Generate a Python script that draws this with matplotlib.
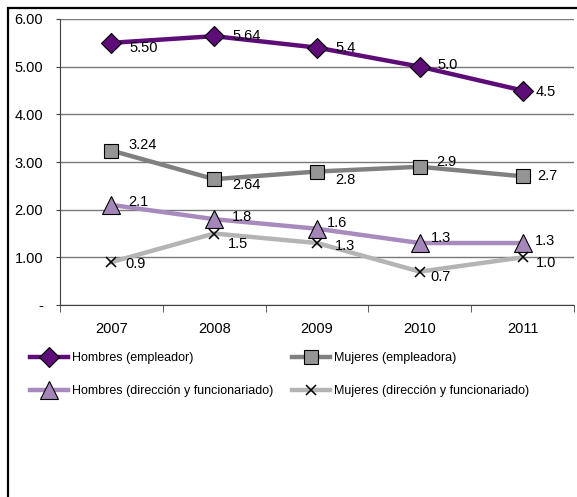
import matplotlib
matplotlib.use("Agg")
import matplotlib.pyplot as plt
from matplotlib.patches import Rectangle

plt.rcParams['font.family'] = ['Liberation Sans', 'DejaVu Sans']

years = ["2007", "2008", "2009", "2010", "2011"]
hombres_empleador = [5.50, 5.64, 5.4, 5.0, 4.5]
mujeres_empleadora = [3.24, 2.64, 2.8, 2.9, 2.7]
hombres_direccion = [2.1, 1.8, 1.6, 1.3, 1.3]
mujeres_direccion = [0.9, 1.5, 1.3, 0.7, 1.0]

labels_he = ["5.50", "5.64", "5.4", "5.0", "4.5"]
labels_me = ["3.24", "2.64", "2.8", "2.9", "2.7"]
labels_hd = ["2.1", "1.8", "1.6", "1.3", "1.3"]
labels_md = ["0.9", "1.5", "1.3", "0.7", "1.0"]

series_names = ["Hombres (empleador)", "Mujeres (empleadora)",
                "Hombres (dirección y funcionariado)", "Mujeres (dirección y funcionariado)"]
y_ticks = [0, 1, 2, 3, 4, 5, 6]
y_ticklabels = ["-", "1.00", "2.00", "3.00", "4.00", "5.00", "6.00"]

W, H = 577, 497
fig = plt.figure(figsize=(W / 100, H / 100), dpi=100)

# outer frame (open at the right and bottom edges)
fig.patches.append(Rectangle((8 / W, -0.05), 1.1, (H - 8) / H + 0.05, transform=fig.transFigure,
                             fill=False, edgecolor="black", linewidth=1.6))

ax = fig.add_axes([60 / W, (H - 305) / H, 514 / W, 286 / H])
x = list(range(len(years)))

styles = [
    dict(data=hombres_empleador, labels=labels_he, color="#5E0D78", marker="D", ms=10,
         mfc="#5E0D78", mec="black", mew=0.8,
         offs=[(18, -5), (18, 0), (18, 0), (18, 2), (13, -1)]),
    dict(data=mujeres_empleadora, labels=labels_me, color="#808080", marker="s", ms=10.5,
         mfc="#959595", mec="black", mew=0.8,
         offs=[(17, 6), (18, -6), (18, -8), (16, 5), (15, 0)]),
    dict(data=hombres_direccion, labels=labels_hd, color="#A98ABD", marker="^", ms=12.5,
         mfc="#A586BA", mec="black", mew=0.8,
         offs=[(17, 3), (18, 2), (10, 6), (11, 5), (12, 2)]),
    dict(data=mujeres_direccion, labels=labels_md, color="#B4B4B4", marker="x", ms=7.5,
         mfc="black", mec="black", mew=1.1,
         offs=[(14, -2), (14, -11), (18, -3), (11, -5), (13, -6)]),
]

handles = []
for st, name in zip(styles, series_names):
    ln, = ax.plot(x, st["data"], color=st["color"], linewidth=3.2, marker=st["marker"],
                  markersize=st["ms"], markerfacecolor=st["mfc"], markeredgecolor=st["mec"],
                  markeredgewidth=st["mew"], zorder=3, label=name)
    handles.append(ln)
    for xi, yi, lab, off in zip(x, st["data"], st["labels"], st["offs"]):
        ax.annotate(lab, (xi, yi), xytext=off, textcoords="offset pixels",
                    ha="left", va="center", fontsize=10.5, color="black", zorder=4)

ax.set_xlim(-0.5, len(years) - 0.5)
ax.set_ylim(0, 6)
ax.set_yticks(y_ticks)
ax.set_yticklabels(y_ticklabels, fontsize=10.5)
ax.set_xticks(x)
ax.set_xticklabels(years, fontsize=10.5)
ax.set_xticks([i - 0.5 for i in range(len(years) + 1)], minor=True)
ax.tick_params(axis="x", which="major", length=0, pad=12)
ax.tick_params(axis="x", which="minor", length=5, color="#404040", direction="out")
ax.tick_params(axis="y", length=3, color="#404040", pad=9)
ax.grid(axis="y", color="#7a7a7a", linewidth=1.0, zorder=0)
for s in ["top", "right"]:
    ax.spines[s].set_visible(False)
ax.spines["left"].set_color("#404040")
ax.spines["bottom"].set_color("#404040")

# legend fills column by column: left column holds the "Hombres" series
order = [0, 2, 1, 3]
fig.legend([handles[i] for i in order], [series_names[i] for i in order],
           loc="upper left", ncol=2, bbox_to_anchor=(19 / W, 1 - 341 / H), frameon=False,
           fontsize=9, handlelength=3.0, handletextpad=0.35, columnspacing=1.5,
           labelspacing=1.65)

fig.savefig("out.png", dpi=100)
